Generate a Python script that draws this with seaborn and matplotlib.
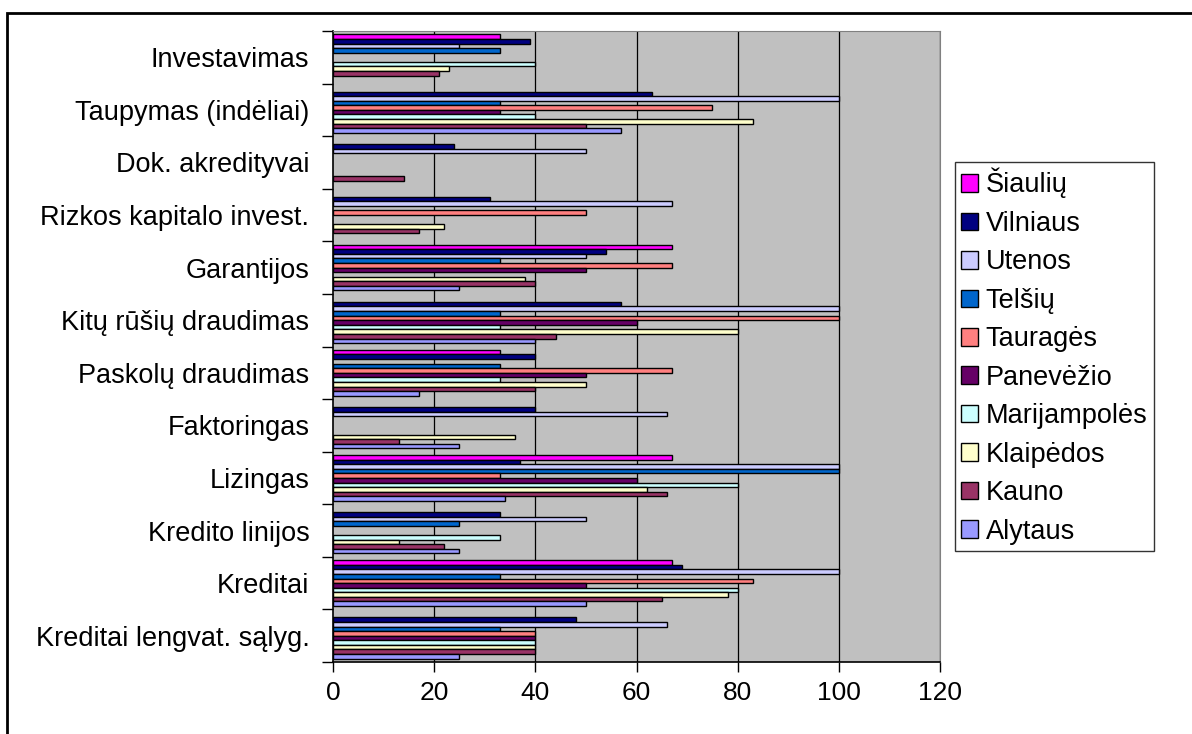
import numpy as np
import pandas as pd
import matplotlib
matplotlib.use("Agg")
import matplotlib.pyplot as plt
import seaborn as sns
from matplotlib.patches import Rectangle

sns.set_style("white")
plt.rcParams["font.family"] = ["Liberation Sans", "DejaVu Sans"]
plt.rcParams["text.color"] = "black"
plt.rcParams["xtick.color"] = "black"
plt.rcParams["ytick.color"] = "black"

# kategorijos, is virsaus i apacia
categories = ["Investavimas", "Taupymas (indėliai)", "Dok. akredityvai",
              "Rizkos kapitalo invest.", "Garantijos", "Kitų rūšių draudimas",
              "Paskolų draudimas", "Faktoringas", "Lizingas", "Kredito linijos",
              "Kreditai", "Kreditai lengvat. sąlyg."]

N = np.nan
siauliu      = [33, N, N, N, 67, N, 33, N, 67, N, 67, N]
vilniaus     = [39, 63, 24, 31, 54, 57, 40, 40, 37, 33, 69, 48]
utenos       = [25, 100, 50, 67, 50, 100, N, 66, 100, 50, 100, 66]
telsiu       = [33, 33, N, N, 33, 33, 33, N, 100, 25, 33, 33]
taurages     = [N, 75, N, 50, 67, 100, 67, N, 33, N, 83, 40]
panevezio    = [N, 33, N, N, 50, 60, 50, N, 60, N, 50, 40]
marijampoles = [40, 40, N, N, N, 33, 33, N, 80, 33, 80, 40]
klaipedos    = [23, 83, N, 22, 38, 80, 50, 36, 62, 13, 78, 40]
kauno        = [21, 50, 14, 17, 40, 44, 40, 13, 66, 22, 65, 40]
alytaus      = [N, 57, N, N, 25, 40, 17, 25, 34, 25, 50, 25]

regions = ["Šiaulių", "Vilniaus", "Utenos", "Telšių", "Tauragės", "Panevėžio",
           "Marijampolės", "Klaipėdos", "Kauno", "Alytaus"]
series = [siauliu, vilniaus, utenos, telsiu, taurages, panevezio,
          marijampoles, klaipedos, kauno, alytaus]
colors = ["#FF00FF", "#000080", "#CCCCFF", "#0066CC", "#FF8080", "#660066",
          "#CCFFFF", "#FFFFCC", "#993366", "#9999FF"]
xticks = [0, 20, 40, 60, 80, 100, 120]

rows = []
for reg, vals in zip(regions, series):
    for cat, v in zip(categories, vals):
        rows.append({"kategorija": cat, "regionas": reg, "reiksme": v})
df = pd.DataFrame(rows)

fig = plt.figure(figsize=(11.92, 7.34), dpi=100)
ax = fig.add_axes([333 / 1192, 1 - 662 / 734, 607 / 1192, 631 / 734])
ax.set_facecolor("#C0C0C0")

sns.barplot(data=df, y="kategorija", x="reiksme", hue="regionas", orient="h",
            order=categories, hue_order=regions, palette=colors,
            width=0.87, edgecolor="black", linewidth=1.0, errorbar=None,
            saturation=1, ax=ax, zorder=3)

ax.set_xlim(0, 120)
ax.set_ylim(len(categories) - 0.5, -0.5)
ax.set_xticks(xticks)
ax.set_xticklabels([str(t) for t in xticks], fontsize=19)
ax.set_yticks(np.arange(-0.5, len(categories), 1))
ax.set_yticklabels([])
ax.set_yticks(np.arange(len(categories)), minor=True)
ax.set_yticklabels(categories, minor=True, fontsize=19.5)
ax.tick_params(axis="y", which="major", direction="out", length=8, width=1, color="black", left=True)
ax.tick_params(axis="y", which="minor", length=0, pad=17)
ax.tick_params(axis="x", direction="out", length=7, width=1, color="black", bottom=True, pad=7)
ax.set_xlabel("")
ax.set_ylabel("")

for t in xticks[1:]:
    ax.axvline(t, color="black", linewidth=0.9, zorder=1)
ax.spines["left"].set_color("black")
ax.spines["bottom"].set_color("black")
ax.spines["left"].set_linewidth(1.2)
ax.spines["bottom"].set_linewidth(1.2)
ax.spines["top"].set_color("#808080")
ax.spines["right"].set_color("#808080")

ax.get_legend().remove()
handles = [Rectangle((0, 0), 1, 1, facecolor=c, edgecolor="black", linewidth=1) for c in colors]
leg = fig.legend(handles, regions, loc="upper left", bbox_to_anchor=(955 / 1192, 1 - 162 / 734),
                 fontsize=19.5, frameon=True, fancybox=False, edgecolor="black",
                 handlelength=0.62, handleheight=0.62, handletextpad=0.3,
                 labelspacing=0.46, borderpad=0.22, borderaxespad=0)
leg.get_frame().set_linewidth(1)

fig.patches.append(Rectangle((7 / 1192, -0.01), 1.2, 1 - 13 / 734 + 0.01, transform=fig.transFigure,
                             fill=False, edgecolor="black", linewidth=2))

fig.savefig("out.png", dpi=100)
plt.close(fig)
